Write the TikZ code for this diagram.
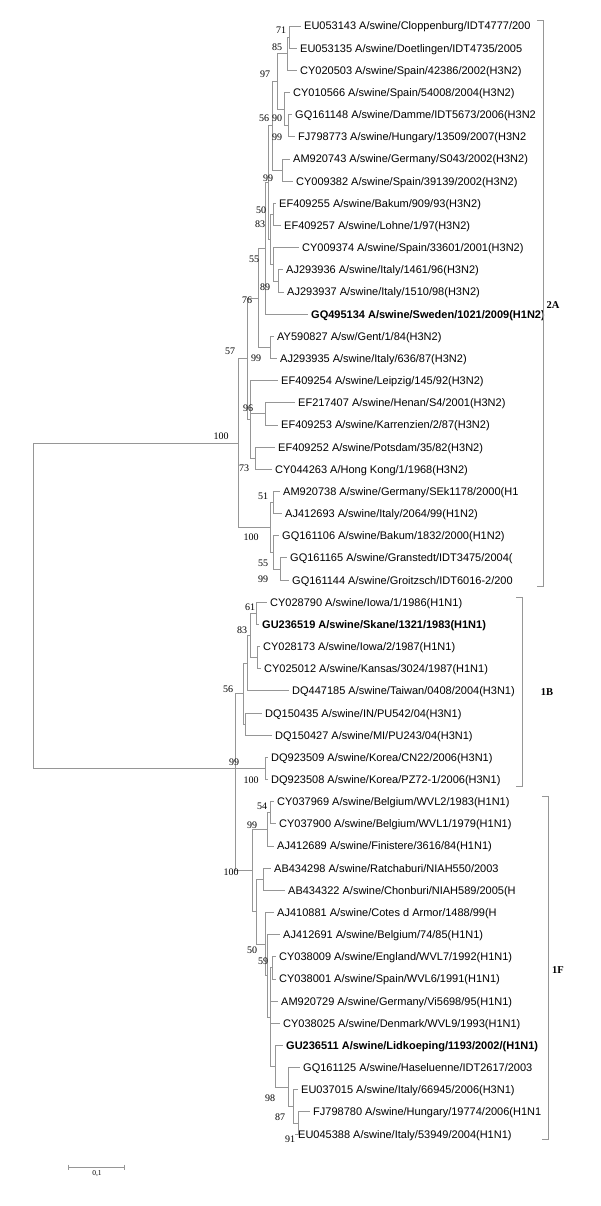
\documentclass[tikz,border=0pt]{standalone}
\usepackage{fontspec}
\newfontfamily\arialf{Liberation Sans}
\newfontfamily\timesf{Liberation Serif}
\definecolor{lineGray}{RGB}{150,150,150}
\newcommand\leafnode[5]{%
  \coordinate (#1) at ({#2-3},{#3});
  \node[#4, anchor=base west] (#1txt) at ({#2},{#3+4}) {#5};}
\begin{document}
\begin{tikzpicture}[x=1pt,y=-1pt,
  br/.style={draw=lineGray, line width=0.8pt},
  leaf/.style={font=\arialf\fontsize{11}{13}\selectfont, inner sep=0pt, text=black},
  bleaf/.style={font=\arialf\bfseries\fontsize{11}{13}\selectfont, inner sep=0pt, text=black},
  boot/.style={font=\timesf\fontsize{10}{12}\selectfont, inner sep=0pt},
  clade/.style={font=\timesf\bfseries\fontsize{10.5}{12}\selectfont, inner sep=0pt},
  scl/.style={font=\timesf\fontsize{7.5}{9}\selectfont, inner sep=0pt}]
\fill[white] (0,0) rectangle (600,1206);
\useasboundingbox (0,0) rectangle (600,1206);
% ---- leaves ----
\leafnode{L1}{304}{26.0}{leaf}{EU053143 A/swine/Cloppenburg/IDT4777/200}
\leafnode{L2}{300}{48.2}{leaf}{EU053135 A/swine/Doetlingen/IDT4735/2005}
\leafnode{L3}{300}{70.3}{leaf}{CY020503 A/swine/Spain/42386/2002(H3N2)}
\leafnode{L4}{293}{92.5}{leaf}{CY010566 A/swine/Spain/54008/2004(H3N2)}
\leafnode{L5}{295}{114.6}{leaf}{GQ161148 A/swine/Damme/IDT5673/2006(H3N2}
\leafnode{L6}{298}{136.8}{leaf}{FJ798773 A/swine/Hungary/13509/2007(H3N2}
\leafnode{L7}{293}{159.0}{leaf}{AM920743 A/swine/Germany/S043/2002(H3N2)}
\leafnode{L8}{296}{181.1}{leaf}{CY009382 A/swine/Spain/39139/2002(H3N2)}
\leafnode{L9}{279}{203.3}{leaf}{EF409255 A/swine/Bakum/909/93(H3N2)}
\leafnode{L10}{284}{225.4}{leaf}{EF409257 A/swine/Lohne/1/97(H3N2)}
\leafnode{L11}{302}{247.6}{leaf}{CY009374 A/swine/Spain/33601/2001(H3N2)}
\leafnode{L12}{286}{269.8}{leaf}{AJ293936 A/swine/Italy/1461/96(H3N2)}
\leafnode{L13}{287}{291.9}{leaf}{AJ293937 A/swine/Italy/1510/98(H3N2)}
\leafnode{L14}{311}{314.1}{bleaf}{GQ495134 A/swine/Sweden/1021/2009(H1N2)}
\leafnode{L15}{277}{336.2}{leaf}{AY590827 A/sw/Gent/1/84(H3N2)}
\leafnode{L16}{280}{358.4}{leaf}{AJ293935 A/swine/Italy/636/87(H3N2)}
\leafnode{L17}{281}{380.6}{leaf}{EF409254 A/swine/Leipzig/145/92(H3N2)}
\leafnode{L18}{298}{402.7}{leaf}{EF217407 A/swine/Henan/S4/2001(H3N2)}
\leafnode{L19}{281}{424.9}{leaf}{EF409253 A/swine/Karrenzien/2/87(H3N2)}
\leafnode{L20}{278}{447.0}{leaf}{EF409252 A/swine/Potsdam/35/82(H3N2)}
\leafnode{L21}{275}{469.2}{leaf}{CY044263 A/Hong Kong/1/1968(H3N2)}
\leafnode{L22}{283}{491.4}{leaf}{AM920738 A/swine/Germany/SEk1178/2000(H1}
\leafnode{L23}{285}{513.5}{leaf}{AJ412693 A/swine/Italy/2064/99(H1N2)}
\leafnode{L24}{282}{535.7}{leaf}{GQ161106 A/swine/Bakum/1832/2000(H1N2)}
\leafnode{L25}{290}{557.8}{leaf}{GQ161165 A/swine/Granstedt/IDT3475/2004(}
\leafnode{L26}{292}{580.0}{leaf}{GQ161144 A/swine/Groitzsch/IDT6016-2/200}
\leafnode{L27}{270}{602.2}{leaf}{CY028790 A/swine/Iowa/1/1986(H1N1)}
\leafnode{L28}{262}{624.3}{bleaf}{GU236519 A/swine/Skane/1321/1983(H1N1)}
\leafnode{L29}{263}{646.5}{leaf}{CY028173 A/swine/Iowa/2/1987(H1N1)}
\leafnode{L30}{264}{668.6}{leaf}{CY025012 A/swine/Kansas/3024/1987(H1N1)}
\leafnode{L31}{292}{690.8}{leaf}{DQ447185 A/swine/Taiwan/0408/2004(H3N1)}
\leafnode{L32}{265}{713.0}{leaf}{DQ150435 A/swine/IN/PU542/04(H3N1)}
\leafnode{L33}{275}{735.1}{leaf}{DQ150427 A/swine/MI/PU243/04(H3N1)}
\leafnode{L34}{271}{757.3}{leaf}{DQ923509 A/swine/Korea/CN22/2006(H3N1)}
\leafnode{L35}{271}{779.4}{leaf}{DQ923508 A/swine/Korea/PZ72-1/2006(H3N1)}
\leafnode{L36}{277}{801.6}{leaf}{CY037969 A/swine/Belgium/WVL2/1983(H1N1)}
\leafnode{L37}{279}{823.8}{leaf}{CY037900 A/swine/Belgium/WVL1/1979(H1N1)}
\leafnode{L38}{277}{845.9}{leaf}{AJ412689 A/swine/Finistere/3616/84(H1N1)}
\leafnode{L39}{274}{868.1}{leaf}{AB434298 A/swine/Ratchaburi/NIAH550/2003}
\leafnode{L40}{288}{890.2}{leaf}{AB434322 A/swine/Chonburi/NIAH589/2005(H}
\leafnode{L41}{277}{912.4}{leaf}{AJ410881 A/swine/Cotes d Armor/1488/99(H}
\leafnode{L42}{283}{934.6}{leaf}{AJ412691 A/swine/Belgium/74/85(H1N1)}
\leafnode{L43}{279}{956.7}{leaf}{CY038009 A/swine/England/WVL7/1992(H1N1)}
\leafnode{L44}{279}{978.9}{leaf}{CY038001 A/swine/Spain/WVL6/1991(H1N1)}
\leafnode{L45}{281}{1001.0}{leaf}{AM920729 A/swine/Germany/Vi5698/95(H1N1)}
\leafnode{L46}{283}{1023.2}{leaf}{CY038025 A/swine/Denmark/WVL9/1993(H1N1)}
\leafnode{L47}{286}{1045.4}{bleaf}{GU236511 A/swine/Lidkoeping/1193/2002/(H1N1)}
\leafnode{L48}{303}{1067.5}{leaf}{GQ161125 A/swine/Haseluenne/IDT2617/2003}
\leafnode{L49}{301}{1089.7}{leaf}{EU037015 A/swine/Italy/66945/2006(H3N1)}
\leafnode{L50}{313}{1111.8}{leaf}{FJ798780 A/swine/Hungary/19774/2006(H1N1}
\leafnode{L51}{298}{1134.0}{leaf}{EU045388 A/swine/Italy/53949/2004(H1N1)}
% ---- internal nodes ----
\coordinate (a1) at (289,37.1);
\coordinate (a2) at (287,53.7);
\coordinate (a3) at (288,125.7);
\coordinate (a4) at (284,109.1);
\coordinate (a5) at (277,81.4);
\coordinate (a6) at (282,170.1);
\coordinate (a7) at (272,125.8);
\coordinate (a8) at (273,214.4);
\coordinate (a89) at (278,280.9);
\coordinate (a10) at (273,264.3);
\coordinate (a11) at (270,239.4);
\coordinate (k) at (268,182.6);
\coordinate (m) at (265,248.4);
\coordinate (c1) at (270,347.3);
\coordinate (n76) at (258,297.9);
\coordinate (d1) at (265,413.8);
\coordinate (d2) at (255,458.1);
\coordinate (n96) at (250,419.4);
\coordinate (n57) at (247,358.7);
\coordinate (q51) at (273,502.5);
\coordinate (q99) at (280,568.9);
\coordinate (q55) at (273,552.3);
\coordinate (p100) at (270,527.4);
\coordinate (n2A) at (238,443.1);
\coordinate (b61) at (256,613.3);
\coordinate (cc) at (257,657.6);
\coordinate (b83) at (250,635.4);
\coordinate (bb) at (247,663.1);
\coordinate (b2) at (245,724.1);
\coordinate (b56) at (243,693.6);
\coordinate (b100) at (265,768.4);
\coordinate (f54) at (270,812.7);
\coordinate (f99) at (267,829.3);
\coordinate (w1) at (263,879.2);
\coordinate (g91) at (298,1122.9);
\coordinate (g87) at (293,1106.3);
\coordinate (g98) at (288,1086.9);
\coordinate (gg) at (275,1066.2);
\coordinate (g59) at (272,967.8);
\coordinate (P) at (270,1017.0);
\coordinate (X) at (267,975.8);
\coordinate (g50) at (265,944.1);
\coordinate (v) at (256,911.7);
\coordinate (f100) at (252,870.5);
\coordinate (z) at (235,768.4);
\coordinate (root) at (33,605.8);
% ---- branches ----
\foreach \p/\c in {a1/L1,a1/L2,a2/a1,a2/L3,a3/L5,a3/L6,a4/L4,a4/a3,a5/a2,a5/a4,
  a6/L7,a6/L8,a7/a5,a7/a6,a8/L9,a8/L10,a89/L12,a89/L13,a10/L11,a10/a89,
  a11/a8,a11/a10,k/a7,k/a11,m/k,m/L14,c1/L15,c1/L16,n76/m,n76/c1,
  d1/L18,d1/L19,d2/L20,d2/L21,n96/L17,n96/d1,n96/d2,n57/n76,n57/n96,
  q51/L22,q51/L23,q99/L25,q99/L26,q55/L24,q55/q99,p100/q51,p100/q55,
  n2A/n57,n2A/p100,
  b61/L27,b61/L28,cc/L29,cc/L30,b83/b61,b83/cc,bb/b83,bb/L31,b2/L32,b2/L33,
  b56/bb,b56/b2,b100/L34,b100/L35,
  f54/L36,f54/L37,f99/f54,f99/L38,w1/L39,w1/L40,g91/L50,g91/L51,g87/L49,g87/g91,
  g98/L48,g98/g87,gg/L47,gg/g98,g59/L43,g59/L44,P/g59,P/L45,P/L46,P/gg,
  X/L42,X/P,g50/L41,g50/X,v/w1,v/g50,f100/f99,f100/v,
  z/b56,z/b100,z/f100,root/n2A,root/z}
  \draw[br] (\p) |- (\c);
% ---- bootstrap values ----
\foreach \x/\y/\t [count=\i] in {281/30/71,277/47/85,265/74/97,264/118/56,277/118/90,
  277/137/99,268/178/99,261/210/50,260/224/83,254/259/55,265/287/89,247/300/76,
  230/351/57,256/358/99,248/408/96,244/468/73,221/436/100,263/496/51,251/537/100,
  263/563/55,263/579/99,
  250/607/61,242/630/83,228/689/56,251/780/100,234/762/99,
  262/806/54,252/825/99,231/872/100,252/950/50,263/961/59,270/1098/98,280/1117/87,290/1139/91}
  \node[boot] (bs\i) at (\x,\y) {\t};
% ---- clade brackets ----
\coordinate (A2t) at (543,20);  \coordinate (A2b) at (543,586);
\coordinate (B1t) at (522,597); \coordinate (B1b) at (522,786);
\coordinate (F1t) at (548,796); \coordinate (F1b) at (548,1139);
\draw[br] ([xshift=-6pt]A2t) -- (A2t) -- (A2b) -- ([xshift=-6pt]A2b);
\draw[br] ([xshift=-6pt]B1t) -- (B1t) -- (B1b) -- ([xshift=-6pt]B1b);
\draw[br] ([xshift=-6pt]F1t) -- (F1t) -- (F1b) -- ([xshift=-6pt]F1b);
\node[clade] (lab2A) at (553,305) {2A};
\node[clade] (lab1B) at (547,692) {1B};
\node[clade] (lab1F) at (558,970) {1F};
% ---- scale bar ----
\coordinate (sb1) at (68,1167); \coordinate (sb2) at (124,1167);
\draw[br] (sb1) -- (sb2);
\draw[br] ([yshift=2.5pt]sb1) -- ([yshift=-2.5pt]sb1);
\draw[br] ([yshift=2.5pt]sb2) -- ([yshift=-2.5pt]sb2);
\node[scl] (sblab) at (97,1174) {0,1};
\end{tikzpicture}
\end{document}
